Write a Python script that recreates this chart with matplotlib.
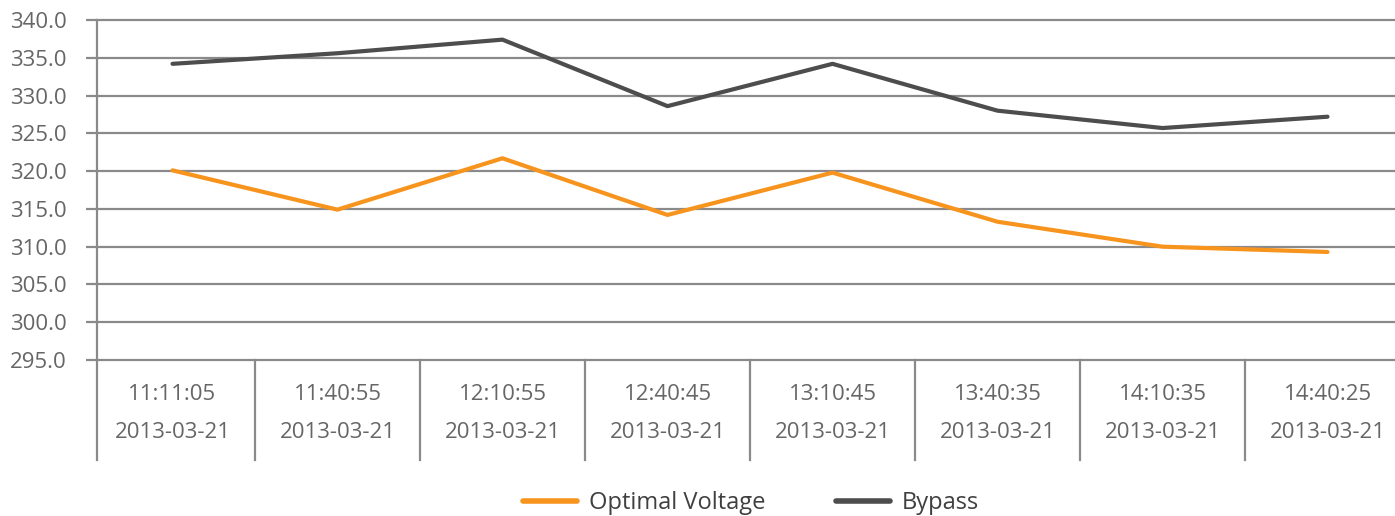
import numpy as np
import matplotlib.pyplot as plt

plt.rcParams['font.family'] = ['Open Sans', 'DejaVu Sans']

times = ['11:11:05', '11:40:55', '12:10:55', '12:40:45',
         '13:10:45', '13:40:35', '14:10:35', '14:40:25']
dates = ['2013-03-21'] * 8
optimal = [320.1, 314.9, 321.7, 314.2, 319.8, 313.3, 310.0, 309.3]
bypass = [334.2, 335.6, 337.4, 328.6, 334.2, 328.0, 325.7, 327.2]
yticks = np.arange(295, 341, 5)

W, H = 1395, 516
fig = plt.figure(figsize=(W / 100, H / 100), dpi=100)
# axes in pixel terms: left spine at 97, categories run 90..1410
left, right, top, bottom = 97, 1410, 20, 360
ax = fig.add_axes([left / W, 1 - bottom / H, (right - left) / W, (bottom - top) / H])

grid_c = '#8a8a8c'
text_c = '#666666'
fs = 16

x = np.arange(len(times))
ax.plot(x, optimal, color='#f7941d', lw=3, solid_capstyle='round', label='Optimal Voltage', zorder=3)
ax.plot(x, bypass, color='#4d4d4d', lw=3, solid_capstyle='round', label='Bypass', zorder=3)

ax.set_xlim(-0.5 + 7 / 165, 7.5)
ax.set_ylim(295, 340)
ax.set_yticks(yticks)
ax.set_yticklabels([f'{v:.1f}' for v in yticks])
ax.set_xticks([])
for v in yticks:
    ax.axhline(v, color=grid_c, lw=1.6, zorder=1, clip_on=False)
ax.tick_params(axis='y', length=8, width=1.6, color=grid_c, pad=14,
               labelsize=fs, labelcolor=text_c)
for s in ['top', 'right', 'bottom', 'left']:
    ax.spines[s].set_visible(False)

# vertical separators below the plot
tr = ax.get_xaxis_transform()
depth = -100 / (bottom - top)
seps = [ax.get_xlim()[0]] + [i + 0.5 for i in range(len(times) - 1)]
for sx in seps:
    y0 = 1 if sx == seps[0] else 0
    ax.plot([sx, sx], [y0, depth], color=grid_c, lw=1.6, transform=tr, clip_on=False, zorder=1)

for i in range(len(times)):
    ax.text(i, -35 / (bottom - top), times[i], transform=tr, ha='center', va='center',
            fontsize=fs, color=text_c)
    ax.text(i, -72 / (bottom - top), dates[i], transform=tr, ha='center', va='center',
            fontsize=fs, color=text_c)

leg = fig.legend(loc='center', bbox_to_anchor=(751 / W, 13 / H), ncol=2, frameon=False,
                 fontsize=17, handlelength=2.3, handletextpad=0.5, columnspacing=3.0,
                 labelcolor='#404040', borderaxespad=0, borderpad=0.1)
for h in leg.get_lines():
    h.set_linewidth(4)

fig.savefig('out.png', dpi=100)
